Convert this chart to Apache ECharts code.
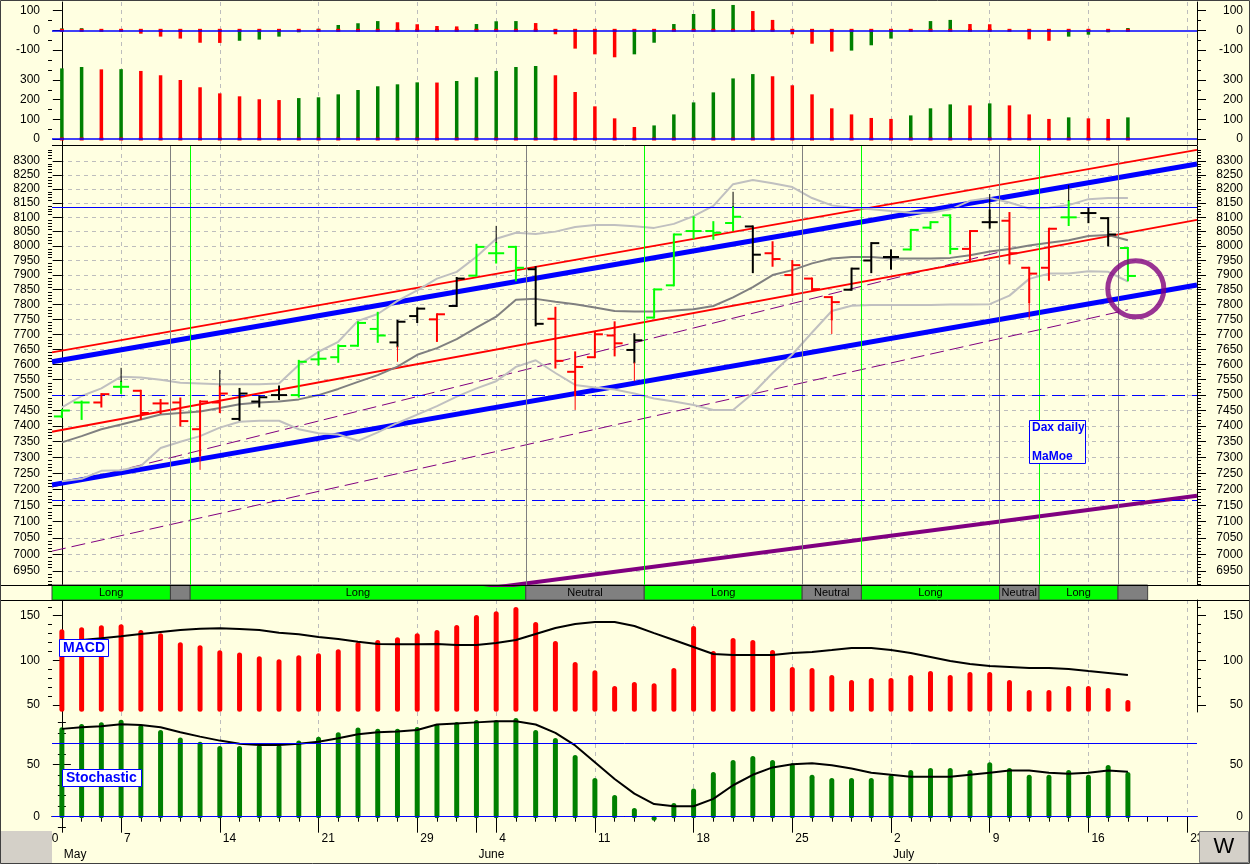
<!DOCTYPE html>
<html><head><meta charset="utf-8">
<script src="https://cdn.jsdelivr.net/npm/echarts@6/dist/echarts.min.js"></script>
<style>html,body{margin:0;padding:0;background:#FFFFE1;}#c{width:1250px;height:864px;}</style>
</head><body><div id="c"></div>
<script>
// ---------------- DATA ----------------
const dates = ['2012-05-02','2012-05-03','2012-05-04','2012-05-07','2012-05-08','2012-05-09','2012-05-10','2012-05-11','2012-05-14','2012-05-15','2012-05-16','2012-05-17','2012-05-18','2012-05-21','2012-05-22','2012-05-23','2012-05-24','2012-05-25','2012-05-29','2012-05-30','2012-05-31',
'2012-06-01','2012-06-04','2012-06-05','2012-06-06','2012-06-07','2012-06-08','2012-06-11','2012-06-12','2012-06-13','2012-06-14','2012-06-15','2012-06-18','2012-06-19','2012-06-20','2012-06-21','2012-06-22','2012-06-25','2012-06-26','2012-06-27','2012-06-28','2012-06-29',
'2012-07-02','2012-07-03','2012-07-04','2012-07-05','2012-07-06','2012-07-09','2012-07-10','2012-07-11','2012-07-12','2012-07-13','2012-07-16','2012-07-17','2012-07-18','2012-07-19','2012-07-20','2012-07-23'];
const monthNames = ['January','February','March','April','May','June','July','August','September','October','November','December'];
const prevWeekLabel = '30';

const momentum = [10,11,0,-1,-17,-32,-42,-63,-64,-53,-47,-32,-10,8,27,36,47,41,31,22,20,32,46,47,37,-20,-93,-122,-137,-122,-63,32,83,108,129,98,53,-20,-68,-108,-103,-76,-42,-2,47,53,32,31,0,-46,-53,-32,-22,-10,12];
const strength = [359,366,354,355,346,324,300,263,232,217,202,198,208,212,227,249,268,278,288,287,295,314,346,366,371,324,239,166,105,61,69,125,186,237,308,330,319,273,227,156,125,107,102,120,156,176,171,181,171,125,102,110,105,102,110];

const openP  = [7431,7476,7476,7527,7514,7473,7476,7390,7476,7423,7479,7500,7500,7617,7624,7662,7718,7673,7761,7750,7795,7898,7975,7997,7920,7752,7576,7624,7696,7648,7756,7865,8052,8052,8080,8068,7975,7900,7888,7825,7850,7950,7962,7988,8064,8107,7990,8083,8088,7925,7925,8100,8115,8097,7993];
const highP  = [7452,7479,7503,7543,7514,7484,7489,7480,7528,7520,7495,7528,7612,7640,7663,7740,7772,7745,7787,7767,7890,8004,8010,7997,7927,7789,7640,7705,7740,7700,7851,8040,8100,8083,8136,8068,8013,7948,7888,7825,7922,8010,7985,8056,8083,8107,8052,8124,8115,7925,8060,8157,8130,8097,7993];
const lowP   = [7429,7423,7463,7507,7423,7442,7402,7308,7445,7420,7463,7487,7495,7600,7609,7662,7675,7660,7741,7678,7795,7898,7943,7882,7730,7590,7500,7624,7630,7607,7756,7865,8027,8025,8055,7910,7932,7833,7850,7750,7850,7910,7922,7988,8062,7975,7950,8064,7940,7808,7884,8073,8083,8002,7882];
const closeP = [7450,7476,7503,7527,7442,7473,7416,7479,7505,7505,7493,7500,7609,7619,7661,7738,7696,7742,7786,7767,7888,7997,7975,7925,7735,7612,7592,7700,7670,7680,7851,8040,8052,8046,8102,7970,7955,7934,7852,7808,7922,8010,7962,8056,8083,7990,8052,8083,7975,7905,8060,8100,8115,8040,7897];
const barSignal = ['buy','buy','sell','buy','sell','sell','sell','sell','sell','hold','hold','hold','buy','buy','buy','buy','buy','hold','hold','sell','hold','buy','buy','buy','hold','sell','sell','sell','sell','hold','buy','buy','buy','buy','buy','hold','sell','sell','sell','sell','hold','hold','hold','buy','buy','buy','sell','hold','sell','sell','sell','buy','hold','hold','buy'];
const swingHighs = {3:7589, 8:7582, 22:8070, 34:8190, 47:8182, 51:8214};
const swingLows  = {7:7261, 17:7609, 26:7452, 29:7545, 39:7701, 49:7752};

const bandUpper = [7460,7497,7522,7560,7557,7550,7540,7538,7535,7535,7535,7538,7598,7642,7675,7745,7768,7812,7848,7888,7911,7963,8025,8046,8042,8050,8066,8073,8073,8069,8063,8077,8104,8140,8217,8232,8220,8207,8168,8142,8134,8128,8122,8116,8116,8128,8158,8168,8152,8131,8134,8143,8164,8168,8168];
const bandMiddle = [7348,7368,7390,7405,7421,7437,7442,7447,7458,7470,7476,7479,7486,7500,7520,7543,7565,7593,7632,7654,7684,7722,7759,7816,7819,7809,7801,7790,7778,7776,7776,7780,7784,7795,7824,7859,7900,7917,7940,7957,7962,7962,7957,7957,7957,7959,7968,7981,7990,8002,8011,8020,8035,8038,8020];
const bandLower = [7225,7233,7258,7260,7273,7330,7350,7368,7395,7414,7417,7417,7390,7377,7373,7353,7380,7410,7437,7464,7495,7522,7545,7592,7614,7572,7533,7525,7518,7505,7489,7479,7468,7452,7452,7505,7572,7633,7706,7778,7796,7798,7798,7798,7798,7800,7800,7801,7830,7887,7905,7905,7913,7911,7878];

// trend lines: [[barIndex, price], [barIndex, price]]
const channelUpperRed  = [[-0.5, 7640], [57.5, 8340]];
const channelUpperBlue = [[-0.5, 7609], [57.5, 8289]];
const channelMidRed    = [[-0.5, 7382], [57.5, 8091]];
const channelLowerBlue = [[-0.5, 7214], [57.5, 7866]];
const supportPurple    = [[-0.5, 6730], [57.5, 7180]];
const guideDashA       = [[-0.5, 7010], [54, 7782]];
const guideDashB       = [[-0.5, 7207], [47.5, 7979]];
const levelSolid = [8135];
const levelDashed = [7500, 7165];
const focusPoint = [[54.4, 7853]];

const statusSegments = [
  {from:-0.5, to:5.5, state:'Long'}, {from:5.5, to:6.5, state:''}, {from:6.5, to:23.5, state:'Long'},
  {from:23.5, to:29.5, state:'Neutral'}, {from:29.5, to:37.5, state:'Long'}, {from:37.5, to:40.5, state:'Neutral'},
  {from:40.5, to:47.5, state:'Long'}, {from:47.5, to:49.5, state:'Neutral'}, {from:49.5, to:53.5, state:'Long'},
  {from:53.5, to:55, state:''}];

const macdHist = [134.8,137,139.3,140.4,134,130.3,120.2,116.9,111.3,109,104.6,101.2,105.7,107.9,112.4,120.6,122.8,125.8,130.3,134,139.6,150.8,155,159.7,143,121.6,98.2,89,71.4,75.8,74.6,91.5,138.5,110.5,125,122.8,111.6,92.6,91.5,83.7,78,80.3,80.3,83.7,88.1,83.7,87,87,78,66.9,66.9,71.4,71.4,69.1,55.7];
const macdSignal = [120.9,122.8,124.7,127,129.5,131.8,134,135.5,135.9,135.1,134,131,129.2,126.2,124,121,118.3,118,118,118.3,117.2,117.2,119.5,122.8,129.5,136.2,140.7,143,143,138.5,130.6,122.8,115,107.2,106,106,106,108.3,109.4,111.6,113.9,113.9,111.6,108.3,103.8,99.3,96,93.7,92.6,91.5,91.5,90.4,88.1,85.9,83.7];
const stochK = [85.4,88.5,90.2,92.4,87.6,82.8,75.5,71.6,67.5,67.5,68.5,68.5,72.6,76.4,80.6,85,83.8,83.8,85.7,88.5,90.4,92.3,92.3,94.2,82.7,75,58.9,36.9,20.7,8.3,1,13,27,42.6,54,58,54,51,40,37,37,37,40,44.6,46.5,46.5,44.6,52,46.5,40,40,44.6,40,49.3,42.6];
const stochD = [83.8,85.4,86.3,88.2,87.6,85.4,80.6,76.4,72.6,69.7,68.5,68.5,69.7,71.6,74.8,78.6,80.6,81.2,82.8,88,89,90,91,91,88,80,68,52,36,22,12,10,10,17,30,40,47,50,51,49,46,42,40,38,38,38,40,42,44,44,42,41,42,44,43];
const stochLevels = [0, 70];

// ---------------- HELPERS ----------------
const FONT = '"Liberation Sans", Arial, sans-serif';
const L = Math.log;
const X_MIN = -0.5, X_MAX = dates.length - 0.5;
const dow = dates.map(d => new Date(d + 'T12:00:00Z').getUTCDay());
const weekStarts = dates.map((d, i) => i).filter(i => i > 0 && dow[i] < dow[i - 1]);
const monthStarts = dates.map((d, i) => i).filter(i => i === 0 || dates[i].slice(5, 7) !== dates[i - 1].slice(5, 7));
const allDays = dates.map((d, i) => i);
const range = (a, b, s) => { const r = []; for (let v = a; v <= b + 1e-9; v += s) r.push(v); return r; };

const GREEN = '#008000', RED = '#FF0000', LIME = '#00FF00';
const sigColor = {buy: LIME, sell: RED, hold: '#000000'};

const grid = [
  {left:52, right:53, top:2, height:58},
  {left:52, right:53, top:60, height:85},
  {left:52, right:53, top:146, height:439},
  {left:52, right:53, top:585, height:15},
  {left:52, right:53, top:600, height:112},
  {left:52, right:53, top:712, height:118}
].map(g => Object.assign({show:false, containLabel:false, outerBoundsMode:'none'}, g));

const xAxis = [];
[0,1,2,3,4,5].forEach(g => {
  xAxis.push({type:'value', gridIndex:g, min:X_MIN, max:X_MAX, position:'bottom',
    axisLine:{show:false}, axisLabel:{show:false},
    axisTick:{show:false, customValues:weekStarts},
    splitLine:{show: g !== 3, lineStyle:{color:'#BDBDBD', type:[4,4], width:1}}});
});
xAxis.push({type:'value', gridIndex:5, min:X_MIN, max:X_MAX, position:'bottom',
  axisLine:{show:true, lineStyle:{color:'#000'}},
  axisTick:{show:true, length:5, customValues:allDays, lineStyle:{color:'#000'}},
  axisLabel:{show:false}, splitLine:{show:false}});
xAxis.push({type:'value', gridIndex:5, min:X_MIN, max:X_MAX, position:'bottom',
  axisLine:{show:false},
  axisTick:{show:true, length:16, customValues:weekStarts, lineStyle:{color:'#000'}},
  axisLabel:{show:true, customValues:weekStarts, formatter:v => String(+dates[Math.round(v)].slice(8, 10)),
    align:'left', margin:3, padding:[0,0,0,3], color:'#000', fontSize:12, fontFamily:FONT},
  splitLine:{show:false}});
xAxis.push({type:'value', gridIndex:5, min:X_MIN, max:X_MAX, position:'bottom', offset:16,
  axisLine:{show:true, lineStyle:{color:'#000'}},
  axisTick:{show:true, length:16, customValues:monthStarts, lineStyle:{color:'#000'}},
  axisLabel:{show:true, customValues:monthStarts, formatter:v => monthNames[+dates[Math.round(v)].slice(5, 7) - 1],
    align:'left', margin:3, padding:[0,0,0,2], color:'#000', fontSize:12, fontFamily:FONT},
  splitLine:{show:false}});

const yAxis = [];
function addY(g, min, max, major, minor, fmt, split) {
  const idx = yAxis.length;
  const base = {type:'value', gridIndex:g, min:min, max:max};
  const lbl = {show:true, customValues:major, formatter:fmt, color:'#000', fontSize:12, fontFamily:FONT};
  yAxis.push(Object.assign({}, base, {position:'left',
    axisLine:{show:true, lineStyle:{color:'#000'}},
    axisTick:{show:true, length:9, customValues:major, lineStyle:{color:'#000'}},
    axisLabel:Object.assign({}, lbl, {margin:12}),
    splitLine:{show:!!split, lineStyle:{color:'#BDBDBD', type:[4,4], width:1}}}));
  yAxis.push(Object.assign({}, base, {position:'left', axisLine:{show:false},
    axisTick:{show:true, length:4, customValues:minor, lineStyle:{color:'#000'}},
    axisLabel:{show:false}, splitLine:{show:false}}));
  yAxis.push(Object.assign({}, base, {position:'right',
    axisLine:{show:true, lineStyle:{color:'#000'}},
    axisTick:{show:true, length:9, customValues:major, lineStyle:{color:'#000'}},
    axisLabel:Object.assign({}, lbl, {margin:46, align:'right'}), splitLine:{show:false}}));
  yAxis.push(Object.assign({}, base, {position:'right', axisLine:{show:false},
    axisTick:{show:true, length:4, customValues:minor, lineStyle:{color:'#000'}},
    axisLabel:{show:false}, splitLine:{show:false}}));
  return idx;
}
const intFmt = v => String(Math.round(v));
const yMom = addY(0, -150.8, 144, [-100, 0, 100], [-150, -50, 50], intFmt, false);
const yStr = addY(1, -30.5, 401.6, [0, 100, 200, 300], [50, 150, 250, 350], intFmt, false);
const priceMajor = range(6950, 8300, 50);
const priceMinor = range(6910, 8350, 10).filter(v => Math.round(v) % 50 !== 0);
const yPrice = addY(2, L(6908), L(8354), priceMajor.map(L), priceMinor.map(L), v => String(Math.round(Math.exp(v))), true);
const yStatus = yAxis.length;
yAxis.push({type:'value', gridIndex:3, min:0, max:1, show:false});
const yMacd = addY(4, 42.3, 167.6, [50, 100, 150], [60,70,80,90,110,120,130,140,160], intFmt, false);
const yStoch = addY(5, -12.7, 99.9, [0, 50], [-10,10,20,30,40,60,70,80,90], intFmt, false);

// ---------------- RENDERERS ----------------
function histRenderer(arr) {
  return function (params, api) {
    const i = params.dataIndex;
    const v = api.value(1);
    const col = (i === 0 || v > arr[i - 1]) ? GREEN : RED;
    const p0 = api.coord([api.value(0), 0]);
    const p1 = api.coord([api.value(0), v]);
    const w = 3.5;
    return {type:'group', children:[
      {type:'rect', shape:{x:p0[0] - w / 2, y:Math.min(p0[1], p1[1]), width:w, height:Math.abs(p1[1] - p0[1])}, style:{fill:col}},
      {type:'rect', shape:{x:p0[0] - 2, y:p0[1] - 1.5, width:4, height:3}, style:{fill:RED}}
    ]};
  };
}
function ohlcRenderer(params, api) {
  const i = params.dataIndex;
  const x = api.value(0);
  const pO = api.coord([x, api.value(1)]), pH = api.coord([x, api.value(2)]);
  const pL = api.coord([x, api.value(3)]), pC = api.coord([x, api.value(4)]);
  const col = sigColor[barSignal[i]];
  const st = {stroke:col, lineWidth:2};
  const ch = [
    {type:'line', shape:{x1:pH[0], y1:pH[1] - 1, x2:pL[0], y2:pL[1] + 1}, style:st},
    {type:'line', shape:{x1:pO[0] - 8, y1:pO[1], x2:pO[0], y2:pO[1]}, style:st},
    {type:'line', shape:{x1:pC[0], y1:pC[1], x2:pC[0] + 8, y2:pC[1]}, style:st}
  ];
  if (swingHighs[i] !== undefined) {
    const q = api.coord([x, L(swingHighs[i])]);
    ch.push({type:'line', shape:{x1:pH[0], y1:pH[1], x2:q[0], y2:q[1]}, style:{stroke:'#000', lineWidth:1}});
  }
  if (swingLows[i] !== undefined) {
    const q = api.coord([x, L(swingLows[i])]);
    ch.push({type:'line', shape:{x1:pL[0], y1:pL[1], x2:q[0], y2:q[1]}, style:{stroke:RED, lineWidth:1}});
  }
  return {type:'group', children:ch};
}
function roundBarRenderer(color, baseFn) {
  return function (params, api) {
    const x = api.value(0);
    const pT = api.coord([x, api.value(1)]);
    const pB = api.coord([x, baseFn()]);
    const w = 5;
    return {type:'rect', shape:{x:pT[0] - w / 2, y:pT[1], width:w, height:Math.max(w, pB[1] - pT[1]), r:2.5}, style:{fill:color}};
  };
}

const lineSeries = (data, xi, yi, color, width, type, z) => ({
  type:'line', xAxisIndex:xi, yAxisIndex:yi, data:data, symbol:'none', silent:true, z:z || 2,
  lineStyle:{color:color, width:width, type:type || 'solid'}, clip:true, animation:false
});
const lnPts = pts => pts.map(p => [p[0], L(p[1])]);
const idxPts = (arr, f) => arr.map((v, i) => [i, f ? f(v) : v]);
const mk = (data, style) => ({silent:true, symbol:['none','none'], precision:10, label:{show:false}, animation:false, lineStyle:style, data:data});

const series = [];
series.push({type:'custom', xAxisIndex:0, yAxisIndex:yMom, data:idxPts(momentum), renderItem:histRenderer(momentum),
  encode:{x:0, y:1}, silent:true, markLine:mk([{yAxis:0}], {color:'#0000FF', width:1.5, type:'solid'})});
series.push({type:'custom', xAxisIndex:1, yAxisIndex:yStr, data:idxPts(strength), renderItem:histRenderer(strength),
  encode:{x:0, y:1}, silent:true, markLine:mk([{yAxis:0}], {color:'#0000FF', width:1.5, type:'solid'})});

const vLines = statusSegments.slice(1).map(s => ({xAxis:s.from, lineStyle:{color: s.state === 'Long' ? LIME : '#808080', width:1, type:'solid'}}));
const hLines = levelSolid.map(v => ({yAxis:L(v), lineStyle:{color:'#0000FF', width:1, type:'solid'}}))
  .concat(levelDashed.map(v => ({yAxis:L(v), lineStyle:{color:'#0000FF', width:1, type:[13,7]}})));
const s0 = lineSeries(lnPts(guideDashA), 2, yPrice, '#800080', 1, [14,6], 2);
s0.markLine = mk(vLines.concat(hLines), {width:1});
series.push(s0);
series.push(lineSeries(lnPts(guideDashB), 2, yPrice, '#800080', 1, [14,6], 2));
series.push(lineSeries(lnPts(supportPurple), 2, yPrice, '#800080', 4, 'solid', 3));
series.push(lineSeries(lnPts(channelUpperRed), 2, yPrice, RED, 2, 'solid', 3));
series.push(lineSeries(lnPts(channelMidRed), 2, yPrice, RED, 2, 'solid', 3));
series.push(lineSeries(lnPts(channelUpperBlue), 2, yPrice, '#0000FF', 5, 'solid', 3));
series.push(lineSeries(lnPts(channelLowerBlue), 2, yPrice, '#0000FF', 5, 'solid', 3));
series.push(lineSeries(idxPts(bandMiddle, L), 2, yPrice, '#808080', 2, 'solid', 4));
series.push(lineSeries(idxPts(bandUpper, L), 2, yPrice, '#C0C0C0', 2, 'solid', 4));
series.push(lineSeries(idxPts(bandLower, L), 2, yPrice, '#C0C0C0', 2, 'solid', 4));
series.push({type:'custom', xAxisIndex:2, yAxisIndex:yPrice, z:5, silent:true,
  data:openP.map((o, i) => [i, L(o), L(highP[i]), L(lowP[i]), L(closeP[i])]),
  encode:{x:0, y:[1,2,3,4]}, renderItem:ohlcRenderer});
series.push({type:'scatter', xAxisIndex:2, yAxisIndex:yPrice, z:6, silent:true, symbol:'circle', symbolSize:56,
  data:lnPts(focusPoint), itemStyle:{color:'rgba(0,0,0,0)', borderColor:'#800080', borderWidth:5}});

series.push({type:'custom', xAxisIndex:3, yAxisIndex:yStatus, silent:true,
  data:statusSegments.map(s => [s.from, s.to]), encode:{x:[0,1]},
  renderItem:function (params, api) {
    const seg = statusSegments[params.dataIndex];
    const p0 = api.coord([api.value(0), 1]), p1 = api.coord([api.value(1), 0]);
    return {type:'group', children:[
      {type:'rect', shape:{x:p0[0], y:p0[1], width:p1[0] - p0[0], height:p1[1] - p0[1]},
        style:{fill: seg.state === 'Long' ? LIME : '#808080', stroke:'#404040', lineWidth:1}},
      {type:'text', x:(p0[0] + p1[0]) / 2, y:(p0[1] + p1[1]) / 2 + 0.5,
        style:{text:seg.state, align:'center', verticalAlign:'middle', fill:'#000', font:'11px ' + FONT}}
    ]};
  }});

series.push({type:'custom', xAxisIndex:4, yAxisIndex:yMacd, silent:true, data:idxPts(macdHist), encode:{x:0, y:1},
  renderItem:roundBarRenderer(RED, () => 42.6)});
series.push(lineSeries(idxPts(macdSignal), 4, yMacd, '#000', 2, 'solid', 3));
series.push({type:'custom', xAxisIndex:5, yAxisIndex:yStoch, silent:true, data:idxPts(stochK), encode:{x:0, y:1},
  renderItem:roundBarRenderer(GREEN, () => -1.5),
  markLine:mk(stochLevels.map(v => ({yAxis:v})), {color:'#0000FF', width:1, type:'solid'})});
series.push(lineSeries(idxPts(stochD), 5, yStoch, '#000', 2, 'solid', 3));

// ---------------- FRAME / ANNOTATIONS ----------------
const hl = (x1, y, x2, c) => ({type:'line', shape:{x1:x1, y1:y, x2:x2, y2:y}, style:{stroke:c || '#000', lineWidth:1}, z:50, silent:true});
const box = (x, y, w, h, fill) => ({type:'rect', shape:{x:x, y:y, width:w, height:h}, style:{fill:fill, stroke:'#0000FF', lineWidth:1}, z:60, silent:true});
const txt = (x, y, t, size) => ({type:'text', x:x, y:y, style:{text:t, fill:'#0000FF', font:'bold ' + size + 'px ' + FONT, align:'left', verticalAlign:'middle'}, z:61, silent:true});
const graphic = [
  hl(52, 145.5, 1197), hl(0, 585.5, 1250), hl(0, 600.5, 1250),
  {type:'text', x:45, y:839, style:{text:prevWeekLabel, fill:'#000', font:'12px ' + FONT, align:'left', verticalAlign:'middle'}, z:30, silent:true},
  {type:'rect', shape:{x:0, y:831, width:52, height:33}, style:{fill:'#D4D0C8'}, z:40, silent:true},
  {type:'rect', shape:{x:1199.5, y:831.5, width:49, height:31}, style:{fill:'#D4D0C8', stroke:'#808080', lineWidth:1}, z:70, silent:true},
  {type:'text', x:1224, y:847, style:{text:'W', fill:'#000', font:'22px ' + FONT, align:'center', verticalAlign:'middle'}, z:71, silent:true},
  {type:'rect', shape:{x:0.5, y:0.5, width:1249, height:863}, style:{fill:'none', stroke:'#404040', lineWidth:1}, z:80, silent:true},
  box(1029.5, 420.5, 56, 43, '#FFFFE1'), txt(1032, 427.5, 'Dax daily', 12), txt(1032, 456.5, 'MaMoe', 12),
  box(59.5, 639.5, 49, 17, '#FFFFFF'), txt(63, 648, 'MACD', 14),
  box(62.5, 769.5, 79, 17, '#FFFFFF'), txt(66, 778, 'Stochastic', 14)
];

const chart = echarts.init(document.getElementById('c'), null, {renderer:'canvas', width:1250, height:864});
chart.setOption({
  animation:false, backgroundColor:'#FFFFE1',
  grid:grid, xAxis:xAxis, yAxis:yAxis, series:series, graphic:{elements:graphic}
});
</script></body></html>
